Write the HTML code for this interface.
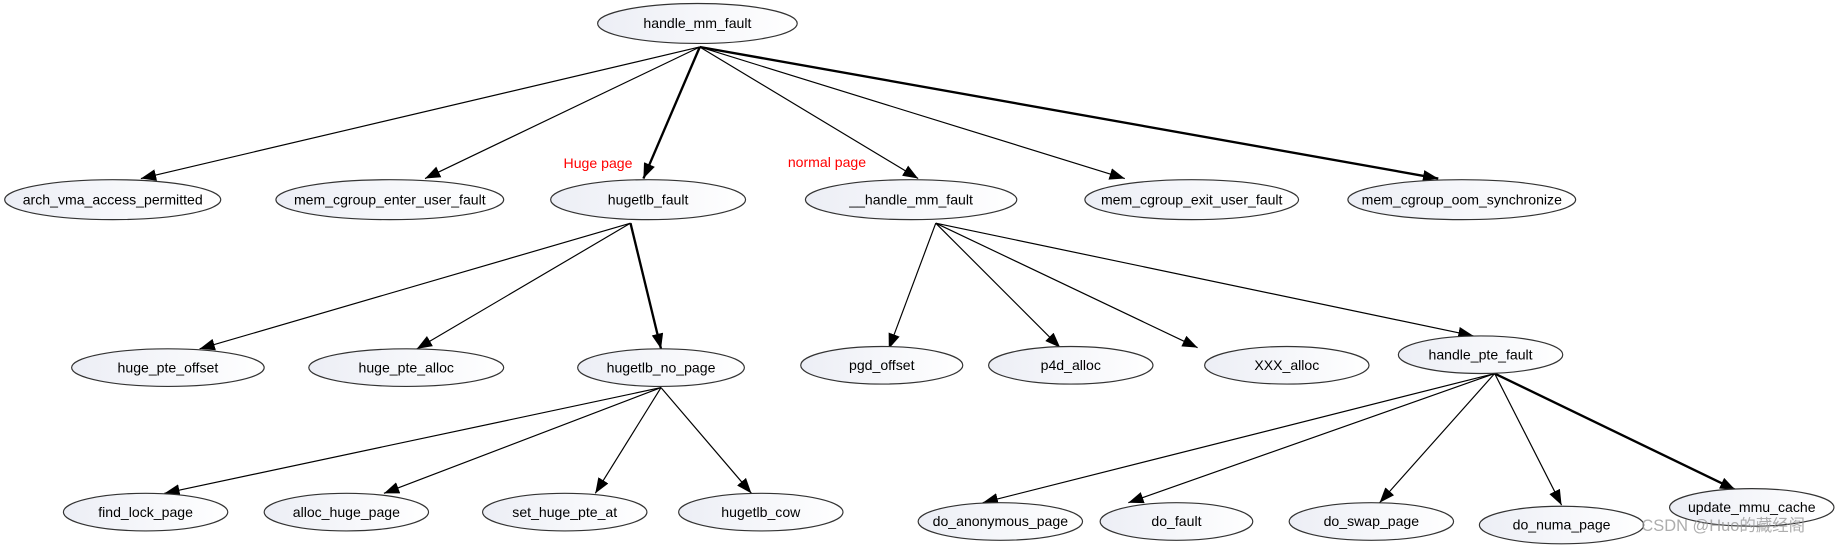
<!DOCTYPE html>
<html><head><meta charset="utf-8"><style>html,body{margin:0;padding:0;background:#fff}svg{display:block}</style></head>
<body>
<svg width="1841" height="545" viewBox="0 0 1568 464" preserveAspectRatio="none" xmlns="http://www.w3.org/2000/svg">
<defs>
<linearGradient id="g" x1="0" y1="0" x2="1" y2="0"><stop offset="0" stop-color="#eceef5"/><stop offset="1" stop-color="#ffffff"/></linearGradient>
<marker id="a" markerUnits="userSpaceOnUse" markerWidth="14" markerHeight="12" refX="13" refY="5" orient="auto"><path d="M0,0 L13,5 L0,10 z" fill="#000"/></marker>
</defs>
<g stroke="#000" fill="none" marker-end="url(#a)">
<line x1="596" y1="40" x2="120" y2="152" stroke-width="1"/>
<line x1="596" y1="40" x2="362" y2="152" stroke-width="1"/>
<line x1="596" y1="40" x2="548" y2="152" stroke-width="2"/>
<line x1="596" y1="40" x2="782" y2="152" stroke-width="1"/>
<line x1="596" y1="40" x2="958" y2="152" stroke-width="1"/>
<line x1="596" y1="40" x2="1225" y2="152" stroke-width="2"/>
<line x1="537" y1="190" x2="170" y2="297" stroke-width="1"/>
<line x1="537" y1="190" x2="355" y2="297" stroke-width="1"/>
<line x1="537" y1="190" x2="563" y2="297" stroke-width="2"/>
<line x1="797" y1="190" x2="757" y2="297" stroke-width="1"/>
<line x1="797" y1="190" x2="903" y2="296" stroke-width="1"/>
<line x1="797" y1="190" x2="1020" y2="296" stroke-width="1"/>
<line x1="797" y1="190" x2="1255" y2="286" stroke-width="1"/>
<line x1="563" y1="330" x2="140" y2="420" stroke-width="1"/>
<line x1="563" y1="330" x2="327" y2="420" stroke-width="1"/>
<line x1="563" y1="330" x2="507" y2="420" stroke-width="1"/>
<line x1="563" y1="330" x2="640" y2="420" stroke-width="1"/>
<line x1="1273" y1="318" x2="837" y2="428" stroke-width="1"/>
<line x1="1273" y1="318" x2="961" y2="428" stroke-width="1"/>
<line x1="1273" y1="318" x2="1175" y2="428" stroke-width="1"/>
<line x1="1273" y1="318" x2="1330" y2="430" stroke-width="1"/>
<line x1="1273" y1="318" x2="1478" y2="417" stroke-width="2"/>
</g>
<g fill="url(#g)" stroke="#333" stroke-width="1">
<ellipse cx="594" cy="20" rx="85" ry="17"/>
<ellipse cx="96" cy="170" rx="92" ry="17"/>
<ellipse cx="332" cy="170" rx="97" ry="17"/>
<ellipse cx="552" cy="170" rx="83" ry="17"/>
<ellipse cx="776" cy="170" rx="90" ry="17"/>
<ellipse cx="1015" cy="170" rx="91" ry="17"/>
<ellipse cx="1245" cy="170" rx="97" ry="17"/>
<ellipse cx="143" cy="313" rx="82" ry="16"/>
<ellipse cx="346" cy="313" rx="83" ry="16"/>
<ellipse cx="563" cy="313" rx="71" ry="16"/>
<ellipse cx="751" cy="311" rx="69" ry="16"/>
<ellipse cx="912" cy="311" rx="70" ry="16"/>
<ellipse cx="1096" cy="311" rx="70" ry="16"/>
<ellipse cx="1261" cy="302" rx="70" ry="16"/>
<ellipse cx="124" cy="436" rx="70" ry="16"/>
<ellipse cx="295" cy="436" rx="70" ry="16"/>
<ellipse cx="481" cy="436" rx="70" ry="16"/>
<ellipse cx="648" cy="436" rx="70" ry="16"/>
<ellipse cx="852" cy="444" rx="70" ry="16"/>
<ellipse cx="1002" cy="444" rx="65" ry="16"/>
<ellipse cx="1168" cy="444" rx="70" ry="16"/>
<ellipse cx="1330" cy="447" rx="70" ry="16"/>
<ellipse cx="1492" cy="432" rx="70" ry="16"/>
</g>
<g font-family="Liberation Sans, sans-serif" font-size="12" text-anchor="middle" fill="#000">
<text x="594" y="24">handle_mm_fault</text>
<text x="96" y="174">arch_vma_access_permitted</text>
<text x="332" y="174">mem_cgroup_enter_user_fault</text>
<text x="552" y="174">hugetlb_fault</text>
<text x="776" y="174">__handle_mm_fault</text>
<text x="1015" y="174">mem_cgroup_exit_user_fault</text>
<text x="1245" y="174">mem_cgroup_oom_synchronize</text>
<text x="143" y="317">huge_pte_offset</text>
<text x="346" y="317">huge_pte_alloc</text>
<text x="563" y="317">hugetlb_no_page</text>
<text x="751" y="315">pgd_offset</text>
<text x="912" y="315">p4d_alloc</text>
<text x="1096" y="315">XXX_alloc</text>
<text x="1261" y="306">handle_pte_fault</text>
<text x="124" y="440">find_lock_page</text>
<text x="295" y="440">alloc_huge_page</text>
<text x="481" y="440">set_huge_pte_at</text>
<text x="648" y="440">hugetlb_cow</text>
<text x="852" y="448">do_anonymous_page</text>
<text x="1002" y="448">do_fault</text>
<text x="1168" y="448">do_swap_page</text>
<text x="1330" y="451">do_numa_page</text>
<text x="1492" y="436">update_mmu_cache</text>
</g>
<g font-family="Liberation Sans, sans-serif" font-size="12" fill="#f00">
<text x="480" y="143">Huge page</text>
<text x="671" y="142">normal page</text>
</g>
<text x="1398" y="452" font-family="Liberation Sans, 'Noto Sans CJK SC', sans-serif" font-size="14" fill="#999" opacity="0.8">CSDN @Huo的藏经阁</text>
</svg>
</body></html>
